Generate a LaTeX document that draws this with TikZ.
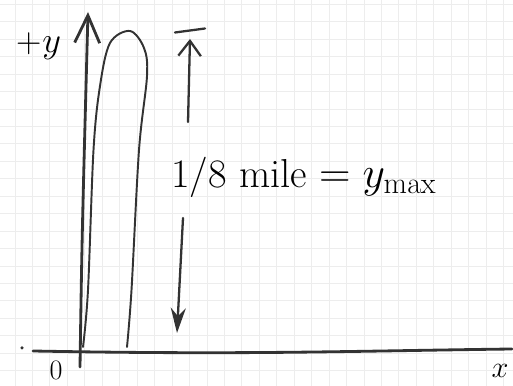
\documentclass[tikz,border=0pt]{standalone}
\usepackage{tikz}
\usetikzlibrary{positioning}
\usetikzlibrary{arrows,arrows.meta}
\colorlet{gridc}{black!7}
\colorlet{pencilc}{black!80}

\begin{document}
\begin{tikzpicture}[scale=1.0,
  pencil/.style={pencilc, line width=1.3pt, line cap=round, line join=round},
  font=\fontsize{20}{23}\selectfont]
\useasboundingbox (0,0) rectangle (10.26,7.72);
\fill[white] (0,0) rectangle (10.26,7.72);
\draw[gridc, line width=0.5pt, step=0.349cm, shift={(0.30,0.306)}] (-0.30,-0.306) grid (9.96,7.414);

% axes
\coordinate (ybot) at (1.60,0.38);
\coordinate (ytop) at (1.76,7.48);
\coordinate (xstart) at (0.66,0.70);
\coordinate (xend) at (10.24,0.74);
\draw[pencil, line width=1.6pt, -{Straight Barb[length=0.55cm,width=0.5cm]}] (ybot) .. controls (1.64,3.0) .. (ytop);
\draw[pencil, line width=1.6pt] (xstart) .. controls (5,0.62) and (7,0.70) .. (xend);
\fill[pencilc] (0.44,0.76) circle (0.035cm);

\node (ylabel) at (0.78,6.80) {+$y$};
\node (olabel) [inner sep=0pt, font=\fontsize{16}{18}\selectfont] at (1.12,0.32) {0};
\node (xlabel) [inner sep=0pt, font=\fontsize{18}{20}\selectfont] at (10.0,0.30) {$x$};

% path of the ball
\draw[pencil, line width=1.1pt] plot[smooth, tension=0.55] coordinates {(1.66,0.78) (1.76,1.92) (1.87,4.72) (2.0,6.0) (2.2,6.86) (2.6,7.10) (2.88,6.76) (2.94,6.2) (2.78,4.72) (2.63,1.92) (2.54,0.78)};

% height
\coordinate (tickl) at (3.50,7.07);
\coordinate (tickr) at (4.10,7.15);
\draw[pencil] (tickl) -- (tickr);
\node (ymaxlabel) [anchor=west, font=\fontsize{23}{26}\selectfont] at (3.30,4.18) {1/8 mile $= y_{\mathrm{max}}$};
\coordinate (uptail) at (3.76,5.28);
\coordinate (uptip) at (3.80,6.94);
\coordinate (dntail) at (3.66,3.36);
\coordinate (dntip) at (3.54,1.06);
\draw[pencil, -{Straight Barb[length=0.3cm,width=0.45cm]}] (uptail) -- (uptip);
\draw[pencil, -{Stealth[length=0.5cm,width=0.3cm]}] (dntail) -- (dntip);
\end{tikzpicture}
\end{document}
